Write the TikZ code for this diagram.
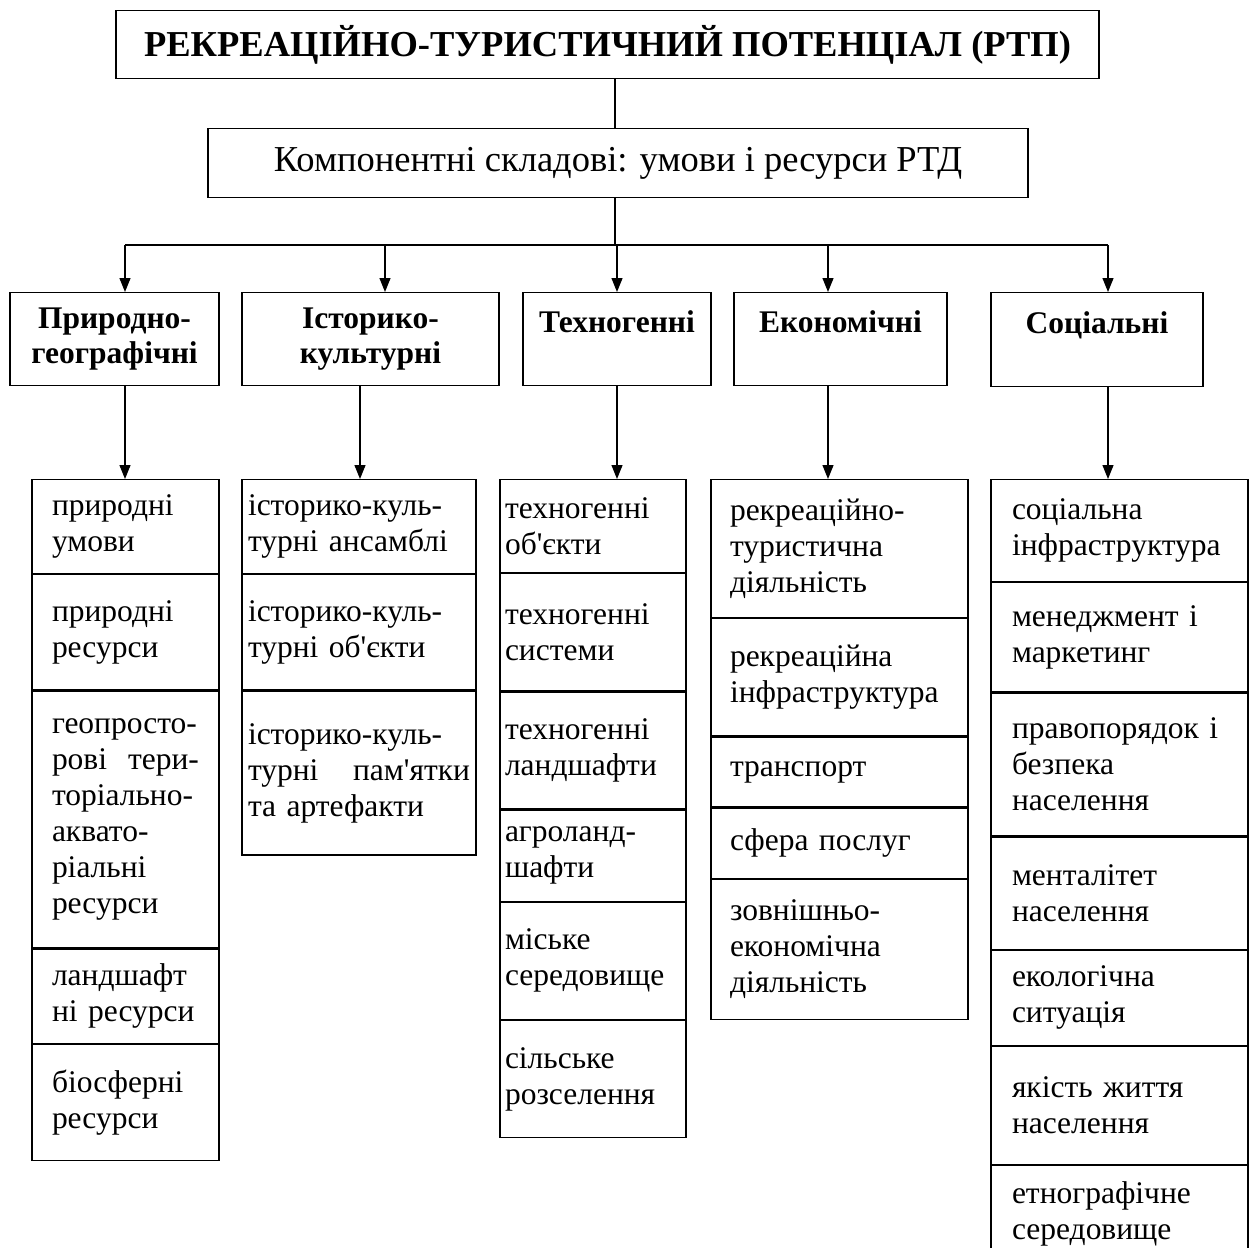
\documentclass[tikz,border=0pt]{standalone}
\usepackage{fontspec}
\setmainfont{Liberation Serif}
\usetikzlibrary{positioning}
\usetikzlibrary{arrows.meta}

\begin{document}
\begin{tikzpicture}[
    x = 1pt, y = -1pt,
    node distance = 0pt,
    ]

    \tikzstyle{box}=[
    draw = black,
    line width = 1.2pt,
    inner sep = 0pt,
    align = center,
    anchor = north,
    ]
    \tikzstyle{headbox}=[box, font=\bfseries\fontsize{31.5}{35}\selectfont]
    \tikzstyle{cell}=[
    draw = black,
    line width = 1.2pt,
    anchor = north,
    align = left,
    inner ysep = 0pt,
    font = \fontsize{31.5}{36}\selectfont,
    ]
    \tikzstyle{col1}=[text width=147pt, inner xsep=20pt]
    \tikzstyle{col2}=[text width=222pt, inner xsep=6pt]
    \tikzstyle{col3}=[text width=176pt, inner xsep=5pt]
    \tikzstyle{col4}=[text width=219pt, inner xsep=19pt]
    \tikzstyle{col5}=[text width=215pt, inner xsep=21pt]
    \tikzstyle{arr}=[-{Triangle[length=14pt,width=11pt]}, line width=1.2pt]

    \useasboundingbox (0,0) rectangle (1254,1248);

    % top of the tree
    \node[box, minimum width=983pt, minimum height=68pt,
      font=\bfseries\fontsize{36.5}{40}\selectfont] (rtp) at (607.5,10)
      {РЕКРЕАЦІЙНО-ТУРИСТИЧНИЙ ПОТЕНЦІАЛ (РТП)};
    \node[box, minimum width=820pt, minimum height=69pt,
      font=\fontsize{36.5}{40}\selectfont] (komp) at (618,128)
      {Компонентні складові: умови і ресурси РТД};

    % groups
    \node[headbox, text width=209pt, minimum height=93pt] (h1) at (114.5,292) {Природно-\\географічні};
    \node[headbox, text width=257pt, minimum height=93pt] (h2) at (370.5,292) {Історико-\\культурні};
    \node[headbox, text width=188pt, minimum height=93pt] (h3) at (617,292) {Техногенні\\\mbox{}};
    \node[headbox, text width=213pt, minimum height=93pt] (h4) at (840.5,292) {Економічні\\\mbox{}};
    \node[headbox, text width=212pt, minimum height=94pt] (h5) at (1097,292) {Соціальні\\\mbox{}};

    % column 1
    \node[cell, col1, minimum height=94pt] (c11) at (125.5,479) {природні\\умови};
    \node[cell, col1, minimum height=115pt, below=of c11] (c12) {природні\\ресурси};
    \node[cell, col1, minimum height=257pt, below=of c12] (c13) {геопросто-\\рові\hfill тери-\\торіально-\\аквато-\\ріальні\\ресурси};
    \node[cell, col1, minimum height=94pt, below=of c13] (c14) {ландшафт\\ні ресурси};
    \node[cell, col1, minimum height=116pt, below=of c14] (c15) {біосферні\\ресурси};

    % column 2
    \node[cell, col2, minimum height=94pt] (c21) at (359,479) {історико-куль-\\турні ансамблі};
    \node[cell, col2, minimum height=115pt, below=of c21] (c22) {історико-куль-\\турні об\textquotesingle єкти};
    \node[cell, col2, minimum height=164pt, below=of c22] (c23) {історико-куль-\\турні\hfill пам\textquotesingle ятки\\та артефакти};

    % column 3
    \node[cell, col3, minimum height=93pt] (c31) at (593,479) {техногенні\\об\textquotesingle єкти};
    \node[cell, col3, minimum height=117pt, below=of c31] (c32) {техногенні\\системи};
    \node[cell, col3, minimum height=117pt, below=of c32] (c33) {техногенні\\ландшафти};
    \node[cell, col3, minimum height=91pt, below=of c33] (c34) {агроланд-\\шафти};
    \node[cell, col3, minimum height=117pt, below=of c34] (c35) {міське\\середовище};
    \node[cell, col3, minimum height=117pt, below=of c35] (c36) {сільське\\розселення};

    % column 4
    \node[cell, col4, minimum height=138pt] (c41) at (839.5,479) {рекреаційно-\\туристична\\діяльність};
    \node[cell, col4, minimum height=117pt, below=of c41] (c42) {рекреаційна\\інфраструктура};
    \node[cell, col4, minimum height=70pt, below=of c42] (c43) {транспорт};
    \node[cell, col4, minimum height=70pt, below=of c43] (c44) {сфера послуг};
    \node[cell, col4, minimum height=140pt, below=of c44] (c45) {зовнішньо-\\економічна\\діяльність};

    % column 5
    \node[cell, col5, minimum height=102pt] (c51) at (1119.5,479) {соціальна\\інфраструктура};
    \node[cell, col5, minimum height=109pt, below=of c51] (c52) {менеджмент і\\маркетинг};
    \node[cell, col5, minimum height=143pt, below=of c52] (c53) {правопорядок і\\безпека\\населення};
    \node[cell, col5, minimum height=112pt, below=of c53] (c54) {менталітет\\населення};
    \node[cell, col5, minimum height=95pt, below=of c54] (c55) {екологічна\\ситуація};
    \node[cell, col5, minimum height=118pt, below=of c55] (c56) {якість життя\\населення};
    \node[cell, col5, minimum height=96pt, below=of c56] (c57) {етнографічне\\середовище};

    % connectors
    \coordinate (mid) at (615,245);
    \coordinate (b1) at (125,245);
    \coordinate (b2) at (385,245);
    \coordinate (b3) at (617,245);
    \coordinate (b4) at (828,245);
    \coordinate (b5) at (1108,245);
    \coordinate (d2) at (360,245);

    \draw[line width=1.2pt] (rtp.south -| mid) -- (komp.north -| mid);
    \draw[line width=1.2pt] (komp.south -| mid) -- (mid);
    \draw[line width=1.2pt] (b1) -- (b5);
    \foreach \i in {1,...,5}
      \draw[arr] (b\i) -- (h\i.north -| b\i);
    \foreach \i/\x in {1/b1, 2/d2, 3/b3, 4/b4, 5/b5}
      \draw[arr] (h\i.south -| \x) -- (c\i1.north -| \x);
  \end{tikzpicture}
\end{document}
